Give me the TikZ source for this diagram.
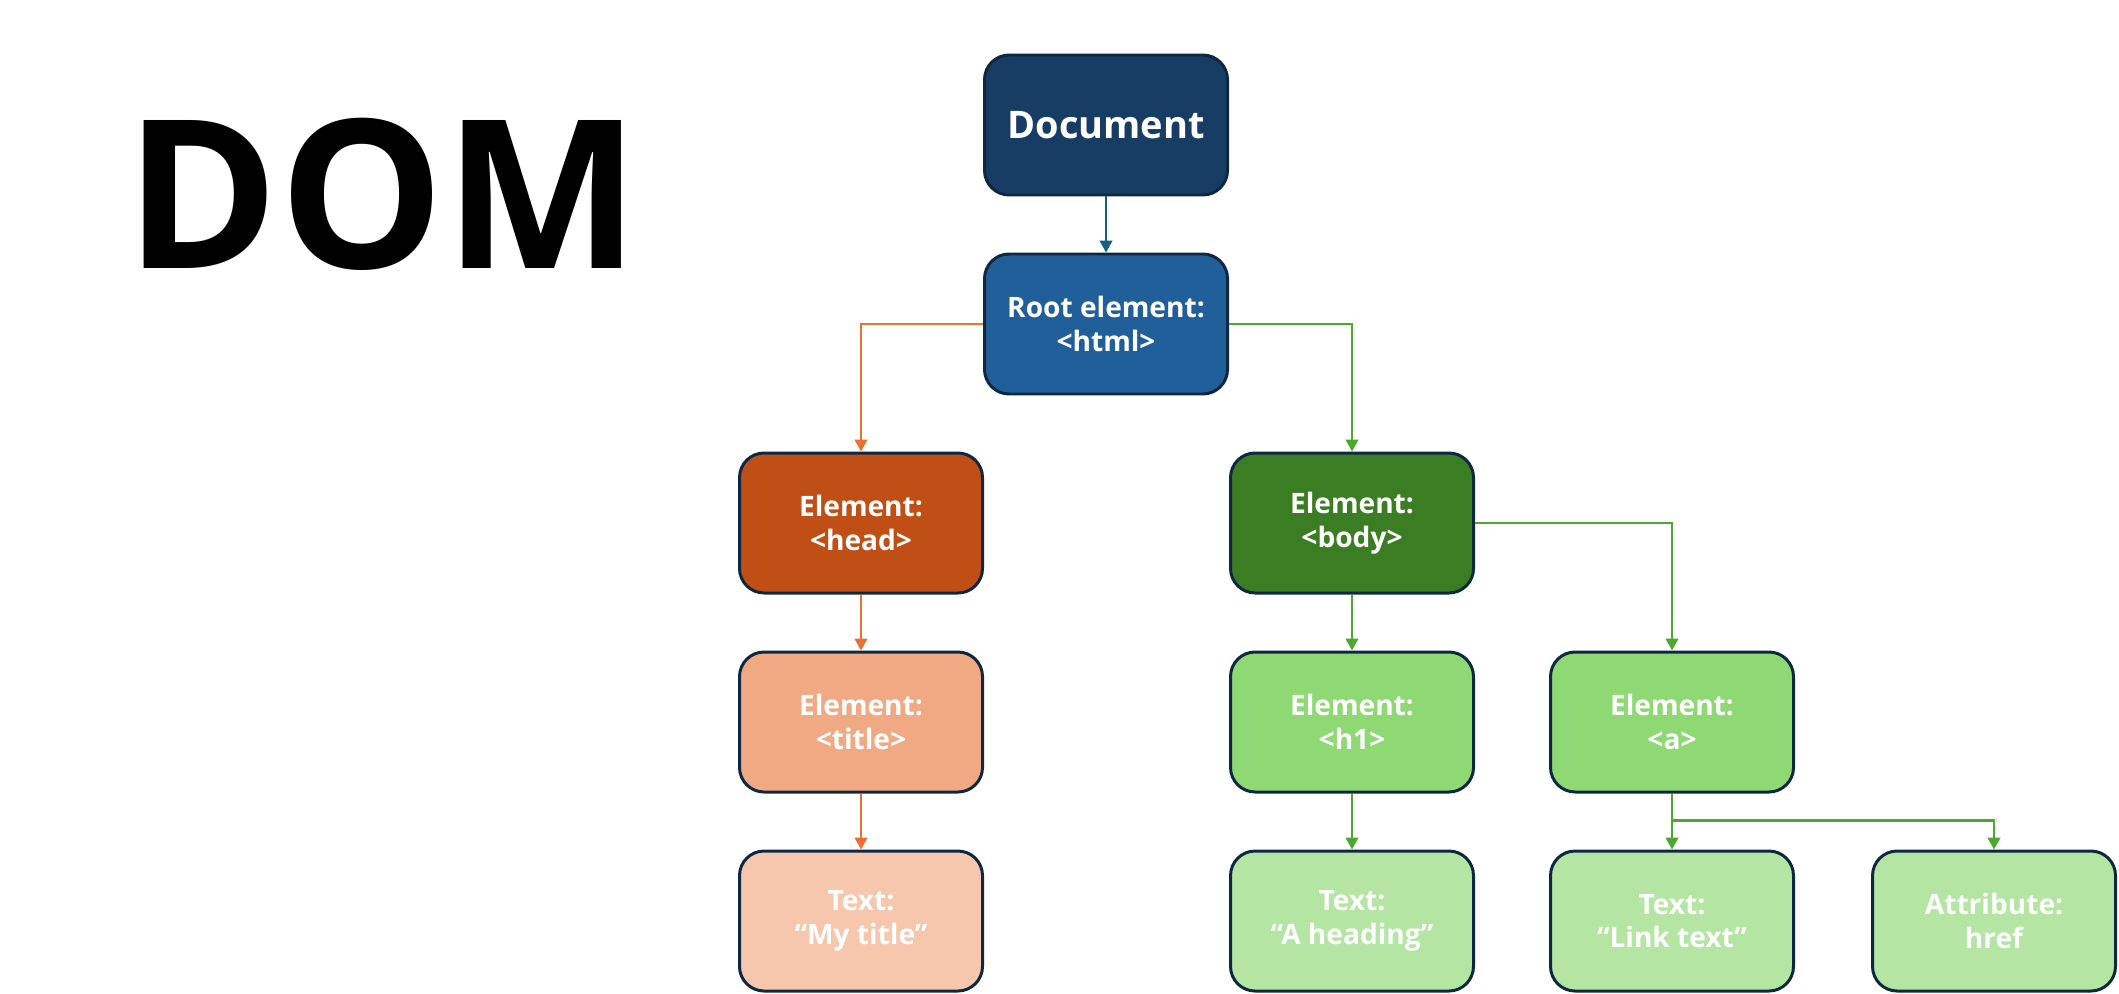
\documentclass[tikz,border=0pt]{standalone}
\usepackage{fontspec}
\setmainfont{Open Sans}
\usepackage{xcolor}
\usepackage{tikz}
\usetikzlibrary{arrows.meta}

\definecolor{boxline}{HTML}{0E2841}
\definecolor{docfill}{HTML}{183D64}
\definecolor{rootfill}{HTML}{215F9A}
\definecolor{headfill}{HTML}{C04F15}
\definecolor{titlefill}{HTML}{F1A983}
\definecolor{htextfill}{HTML}{F6C6AD}
\definecolor{bodyfill}{HTML}{3B7D23}
\definecolor{elemfill}{HTML}{8ED973}
\definecolor{btextfill}{HTML}{B4E5A2}
\definecolor{bluearrow}{HTML}{156082}
\definecolor{orangearrow}{HTML}{E97132}
\definecolor{greenarrow}{HTML}{4EA72E}

\begin{document}
\begin{tikzpicture}[
    node distance=1.99cm,
    box/.style={draw=boxline, rectangle, minimum width=2.43cm, minimum height=1.40cm, rounded corners=7pt, align=center, line width=0.85pt, text=white, font=\bfseries\fontsize{8}{9.6}\selectfont},
    arrow/.style={-{Triangle[width=3.6pt,length=3.4pt]}, line width=0.6pt}
]
    \useasboundingbox (0,0) rectangle (21.19,-9.93);

    % Titel
    \node (dom) [inner sep=0pt, font=\bfseries\fontsize{59}{70}\selectfont] at (3.83,-1.94) {DOM};

    % Baum
    \node (doc) [box, fill=docfill, font=\bfseries\fontsize{10.8}{13}\selectfont] at (11.06,-1.25) {Document};
    \node (root) [box, fill=rootfill, below of=doc] {Root element:\\<html>};
    \node (head) [box, fill=headfill, below of=root, xshift=-2.45cm] {Element:\\<head>};
    \node (body) [box, fill=bodyfill, below of=root, xshift=2.46cm] {Element:\\<body>};
    \node (title) [box, fill=titlefill, below of=head] {Element:\\<title>};
    \node (mytitle) [box, fill=htextfill, below of=title] {Text:\\“My title”};
    \node (h1) [box, fill=elemfill, below of=body] {Element:\\<h1>};
    \node (heading) [box, fill=btextfill, below of=h1] {Text:\\“A heading”};
    \node (a) [box, fill=elemfill, right of=h1, xshift=1.21cm] {Element:\\<a>};
    \node (linktext) [box, fill=btextfill, below of=a] {Text:\\“Link text”};
    \node (href) [box, fill=btextfill, right of=linktext, xshift=1.23cm] {Attribute:\\href};

    % Verbindungen
    \draw [arrow, bluearrow] (doc) -- (root);
    \draw [arrow, orangearrow] (root.west) -| (head.north);
    \draw [arrow, orangearrow] (head) -- (title);
    \draw [arrow, orangearrow] (title) -- (mytitle);
    \draw [arrow, greenarrow] (root.east) -| (body.north);
    \draw [arrow, greenarrow] (body) -- (h1);
    \draw [arrow, greenarrow] (body.east) -| (a.north);
    \draw [arrow, greenarrow] (h1) -- (heading);
    \draw [arrow, greenarrow] (a) -- (linktext);
    \draw [arrow, greenarrow] (a.south) -- ++(0,-0.27) -| (href.north);

\end{tikzpicture}
\end{document}
